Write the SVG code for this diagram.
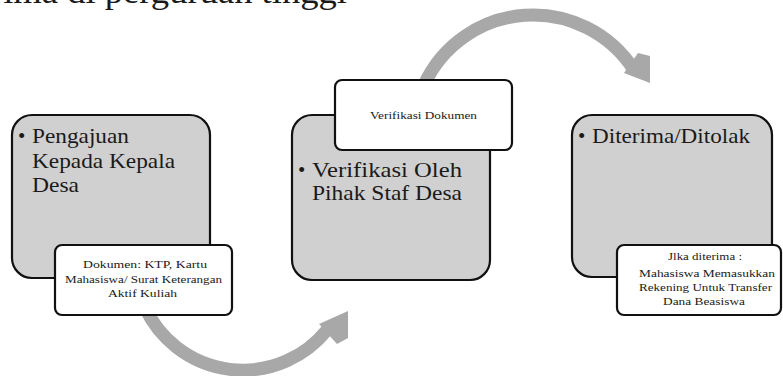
<svg xmlns="http://www.w3.org/2000/svg" width="783" height="376" viewBox="0 0 783 376">
<style>
.big{fill:#d0d0d0;stroke:#111;stroke-width:2.2}
.small{fill:#fff;stroke:#111;stroke-width:2.2}
.t{font-family:'Liberation Serif','Times New Roman',Times,serif;fill:#1a1a1a}
.bt{font-size:21px}
.st{font-size:11px;text-anchor:middle}
.arc{fill:none;stroke:#a8a8a8;stroke-width:13}
.head{fill:#a8a8a8}
</style>
<rect width="783" height="376" fill="#fff"/>
<text class="t" x="-9" y="3" font-size="34" textLength="356" lengthAdjust="spacingAndGlyphs">rima di perguruan tinggi</text>
<g id="connectors">
<path class="arc" d="M145 307.6 A108 108 0 0 0 327 330"/>
<polygon class="head" points="319,324 348,311 348,338 337,344"/>
<path class="arc" d="M424 85 A120 120 0 0 1 634 70"/>
<polygon class="head" points="624,73 650,83 650,56 638,53"/>
</g>
<g id="node1">
<rect class="big" x="12" y="115" width="198" height="163" rx="20"/>
<text class="t bt" x="18" y="143">•</text>
<text class="t bt" x="32" y="143" textLength="97" lengthAdjust="spacingAndGlyphs">Pengajuan</text>
<text class="t bt" x="32" y="168" textLength="143" lengthAdjust="spacingAndGlyphs">Kepada Kepala</text>
<text class="t bt" x="32" y="192" textLength="47" lengthAdjust="spacingAndGlyphs">Desa</text>
</g>
<g id="node1-note">
<rect class="small" x="55" y="245" width="177" height="70" rx="7"/>
<text class="t st" x="145" y="268" textLength="124" lengthAdjust="spacingAndGlyphs">Dokumen:  KTP, Kartu</text>
<text class="t st" x="143.5" y="283" textLength="157" lengthAdjust="spacingAndGlyphs">Mahasiswa/  Surat Keterangan</text>
<text class="t st" x="142.5" y="297" textLength="69" lengthAdjust="spacingAndGlyphs">Aktif Kuliah</text>
</g>
<g id="node2">
<rect class="big" x="292" y="115" width="198" height="165" rx="20"/>
<text class="t bt" x="298" y="177">•</text>
<text class="t bt" x="312" y="177" textLength="150" lengthAdjust="spacingAndGlyphs">Verifikasi  Oleh</text>
<text class="t bt" x="312" y="200" textLength="150" lengthAdjust="spacingAndGlyphs">Pihak Staf Desa</text>
</g>
<g id="node2-note">
<rect class="small" x="335" y="80" width="177" height="70" rx="7"/>
<text class="t st" x="423.5" y="119" textLength="107" lengthAdjust="spacingAndGlyphs">Verifikasi  Dokumen</text>
</g>
<g id="node3">
<rect class="big" x="572" y="115" width="200" height="162" rx="20"/>
<text class="t bt" x="578" y="143">•</text>
<text class="t bt" x="592" y="143" textLength="158" lengthAdjust="spacingAndGlyphs">Diterima/Ditolak</text>
</g>
<g id="node3-note">
<rect class="small" x="617" y="245" width="164" height="70" rx="7"/>
<text class="t st" x="705" y="260" textLength="74" lengthAdjust="spacingAndGlyphs">Jlka diterima :</text>
<text class="t st" x="707" y="277" textLength="136" lengthAdjust="spacingAndGlyphs">Mahasiswa  Memasukkan</text>
<text class="t st" x="705.5" y="291" textLength="133" lengthAdjust="spacingAndGlyphs">Rekening  Untuk Transfer</text>
<text class="t st" x="704" y="305" textLength="82" lengthAdjust="spacingAndGlyphs">Dana  Beasiswa</text>
</g>
</svg>
